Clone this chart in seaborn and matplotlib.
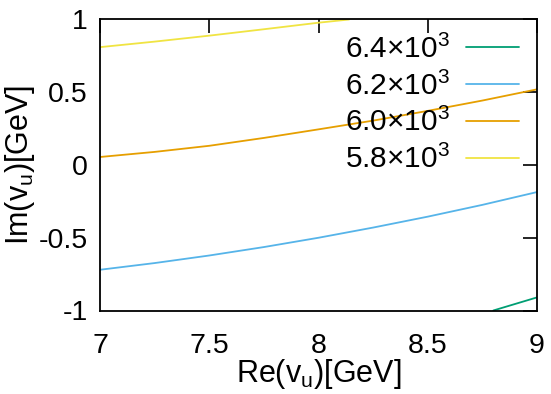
import matplotlib
matplotlib.use("Agg")
import matplotlib.pyplot as plt
import seaborn as sns
import pandas as pd

# contour levels (legend order)
levels = [r"6.4$\times$10$^{3}$", r"6.2$\times$10$^{3}$",
          r"6.0$\times$10$^{3}$", r"5.8$\times$10$^{3}$"]
colors = ["#009e73", "#56b4e9", "#e69f00", "#f0e442"]

# contour line samples
x_64 = [8.8, 8.9, 9.0]
y_64 = [-1.0, -0.955, -0.91]
x_62 = [7.0, 7.25, 7.5, 7.75, 8.0, 8.25, 8.5, 8.75, 9.0]
y_62 = [-0.72, -0.674, -0.622, -0.564, -0.50, -0.43, -0.355, -0.274, -0.186]
x_60 = [7.0, 7.25, 7.5, 7.75, 8.0, 8.25, 8.5, 8.75, 9.0]
y_60 = [0.055, 0.09, 0.132, 0.186, 0.245, 0.305, 0.372, 0.443, 0.52]
x_58 = [7.0, 7.25, 7.5, 7.75, 8.0, 8.14]
y_58 = [0.81, 0.848, 0.889, 0.933, 0.978, 1.0]

xticks = [7, 7.5, 8, 8.5, 9]
xticklabels = ["7", "7.5", "8", "8.5", "9"]
yticks = [-1, -0.5, 0, 0.5, 1]
yticklabels = ["-1", "-0.5", "0", "0.5", "1"]

frames = []
for lab, xs, ys in zip(levels, [x_64, x_62, x_60, x_58], [y_64, y_62, y_60, y_58]):
    frames.append(pd.DataFrame({"x": xs, "y": ys, "level": lab}))
df = pd.concat(frames, ignore_index=True)

sns.set_style("white")
plt.rcParams["font.family"] = ["Liberation Sans", "DejaVu Sans"]
plt.rcParams["mathtext.default"] = "regular"
plt.rcParams["mathtext.fontset"] = "custom"
plt.rcParams["mathtext.rm"] = "Liberation Sans"
plt.rcParams["text.color"] = "black"
plt.rcParams["axes.labelcolor"] = "black"

fs = 20.5
fig = plt.figure(figsize=(5.51, 3.94), dpi=100)
ax = fig.add_axes([100 / 551, 1 - 310.5 / 394, 437 / 551, 291 / 394])

sns.lineplot(data=df, x="x", y="y", hue="level", hue_order=levels,
             palette=dict(zip(levels, colors)), sort=False, estimator=None,
             linewidth=1.3, ax=ax, legend=True)

ax.set_xlim(7, 9)
ax.set_ylim(-1, 1)
ax.set_xticks(xticks)
ax.set_xticklabels(xticklabels)
ax.set_yticks(yticks)
ax.set_yticklabels(yticklabels)
ax.tick_params(direction="in", length=10, width=1.2, top=True, right=True,
               labelsize=fs, colors="black")
ax.tick_params(axis="x", pad=16)
ax.tick_params(axis="y", pad=9)
for s in ax.spines.values():
    s.set_color("black")
    s.set_linewidth(1.3)

ax.set_xlabel(r"Re(v$_{u}$)[GeV]", fontsize=22, labelpad=-1)
ax.set_ylabel(r"Im(v$_{u}$)[GeV]", fontsize=22, labelpad=1)

handles, labels = ax.get_legend_handles_labels()
ax.legend(handles, labels, loc="upper right", bbox_to_anchor=(0.985, 0.99),
          frameon=False, markerfirst=False, fontsize=21.5, handlelength=1.75,
          handletextpad=0.55, labelspacing=0.26, borderaxespad=0)

fig.savefig("out.png", dpi=100)
